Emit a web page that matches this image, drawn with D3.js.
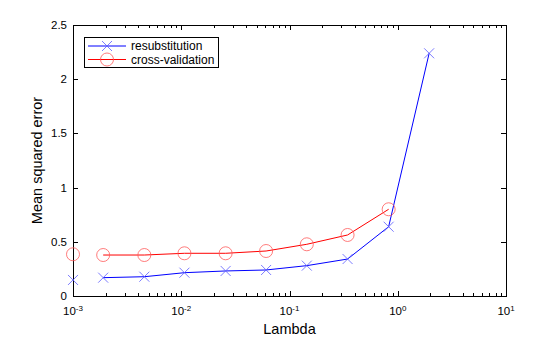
<!DOCTYPE html>
<html>
<head>
<meta charset="utf-8">
<script src="https://cdn.jsdelivr.net/npm/d3@7"></script>
<style>
  body { margin: 0; background: #fff; }
  text { font-family: "Liberation Sans", Arial, sans-serif; fill: #000; }
</style>
</head>
<body>
<div id="chart"></div>
<script>
// values
const lambda = [0.001, 0.0019, 0.00456, 0.0107, 0.0257, 0.0608, 0.1445, 0.344, 0.824, 1.95];
const resub = [0.148, 0.169, 0.178, 0.215, 0.231, 0.240, 0.280, 0.341, 0.639, 2.239];
const cv = [0.385, 0.378, 0.378, 0.394, 0.394, 0.415, 0.477, 0.563, 0.800];
const yTicks = [0, 0.5, 1, 1.5, 2, 2.5];
const xTicks = [1e-3, 1e-2, 1e-1, 1, 10];

const W = 560, H = 337;
const margin = { top: 25, right: 54, bottom: 41, left: 73 };
const width = W - margin.left - margin.right;
const height = H - margin.top - margin.bottom;

const svg = d3.select('#chart').append('svg')
  .attr('width', W)
  .attr('height', H);

const g = svg.append('g')
  .attr('transform', `translate(${margin.left},${margin.top})`);

const x = d3.scaleLog().domain([1e-3, 10]).range([0, width]);
const y = d3.scaleLinear().domain([0, 2.5]).range([height, 0]);

// minor ticks on log axis
const minor = [];
for (let e = -3; e < 1; e++) {
  for (let k = 2; k <= 9; k++) minor.push(k * Math.pow(10, e));
}

const ticks = g.append('g').attr('stroke', '#000').attr('stroke-width', 1);
minor.forEach(v => {
  const px = Math.round(x(v)) + 0.5;
  ticks.append('line').attr('x1', px).attr('x2', px).attr('y1', height).attr('y2', height - 3);
  ticks.append('line').attr('x1', px).attr('x2', px).attr('y1', 0).attr('y2', 3);
});
xTicks.forEach(v => {
  const px = Math.round(x(v)) + 0.5;
  ticks.append('line').attr('x1', px).attr('x2', px).attr('y1', height).attr('y2', height - 5);
  ticks.append('line').attr('x1', px).attr('x2', px).attr('y1', 0).attr('y2', 5);
});
yTicks.forEach(v => {
  const py = Math.round(y(v)) + 0.5;
  ticks.append('line').attr('x1', 0).attr('x2', 5).attr('y1', py).attr('y2', py);
  ticks.append('line').attr('x1', width).attr('x2', width - 5).attr('y1', py).attr('y2', py);
});

// box
g.append('rect')
  .attr('x', 0.5).attr('y', 0.5)
  .attr('width', width).attr('height', height)
  .attr('fill', 'none').attr('stroke', '#000').attr('stroke-width', 1);

// tick labels
g.selectAll('.ylab').data(yTicks).enter().append('text')
  .attr('class', 'ylab')
  .attr('x', -6)
  .attr('y', d => y(d))
  .attr('dy', '0.35em')
  .attr('text-anchor', 'end')
  .style('font-size', '11.5px')
  .text(d => d);

const xl = g.selectAll('.xlab').data(xTicks).enter().append('text')
  .attr('class', 'xlab')
  .attr('x', d => x(d))
  .attr('y', height + 19)
  .attr('text-anchor', 'middle')
  .style('font-size', '11.5px');
xl.append('tspan').text('10');
xl.append('tspan')
  .attr('dy', -4.5)
  .style('font-size', '8px')
  .text(d => Math.round(Math.log10(d)));

// axis titles
g.append('text')
  .attr('x', width / 2)
  .attr('y', height + 38)
  .attr('text-anchor', 'middle')
  .style('font-size', '14.5px')
  .text('Lambda');

g.append('text')
  .attr('transform', `translate(-31,${height / 2}) rotate(-90)`)
  .attr('text-anchor', 'middle')
  .style('font-size', '14.5px')
  .text('Mean squared error');

// series (the first point has a marker but no connecting segment in the reference)
const resubData = lambda.map((l, i) => ({ l, v: resub[i] }));
const cvData = cv.map((v, i) => ({ l: lambda[i], v }));

const line = d3.line().x(d => x(d.l)).y(d => y(d.v));

g.append('path')
  .datum(resubData.slice(1))
  .attr('fill', 'none').attr('stroke', '#0000ff').attr('stroke-width', 1)
  .attr('d', line);

g.append('path')
  .datum(cvData.slice(1))
  .attr('fill', 'none').attr('stroke', '#ff0000').attr('stroke-width', 1)
  .attr('d', line);

const crossPath = 'M-5,-5L5,5M-5,5L5,-5';

g.selectAll('.xmark').data(resubData).enter().append('path')
  .attr('class', 'xmark')
  .attr('transform', d => `translate(${x(d.l)},${y(d.v)})`)
  .attr('d', crossPath)
  .attr('stroke', '#5a5aff').attr('stroke-width', 0.8).attr('fill', 'none');

g.selectAll('.omark').data(cvData).enter().append('circle')
  .attr('class', 'omark')
  .attr('cx', d => x(d.l))
  .attr('cy', d => y(d.v))
  .attr('r', 6.5)
  .attr('stroke', '#ff5a5a').attr('stroke-width', 0.8).attr('fill', 'none');

// legend
const leg = g.append('g').attr('transform', 'translate(11,12)');
leg.append('rect')
  .attr('x', 0.5).attr('y', 0.5)
  .attr('width', 134).attr('height', 30)
  .attr('fill', '#fff').attr('stroke', '#000').attr('stroke-width', 1);

const entries = [
  { name: 'resubstitution', color: '#0000ff', mark: '#5a5aff', type: 'x' },
  { name: 'cross-validation', color: '#ff0000', mark: '#ff5a5a', type: 'o' }
];
entries.forEach((e, i) => {
  const yy = 9 + i * 13.5;
  leg.append('line')
    .attr('x1', 4).attr('x2', 42).attr('y1', yy).attr('y2', yy)
    .attr('stroke', e.color).attr('stroke-width', 1);
  if (e.type === 'x') {
    leg.append('path')
      .attr('transform', `translate(23,${yy})`)
      .attr('d', crossPath)
      .attr('stroke', e.mark).attr('stroke-width', 0.8).attr('fill', 'none');
  } else {
    leg.append('circle')
      .attr('cx', 23).attr('cy', yy).attr('r', 6.5)
      .attr('stroke', e.mark).attr('stroke-width', 0.8).attr('fill', 'none');
  }
  leg.append('text')
    .attr('x', 47).attr('y', yy)
    .attr('dy', '0.35em')
    .style('font-size', '12px')
    .text(e.name);
});
</script>
</body>
</html>
